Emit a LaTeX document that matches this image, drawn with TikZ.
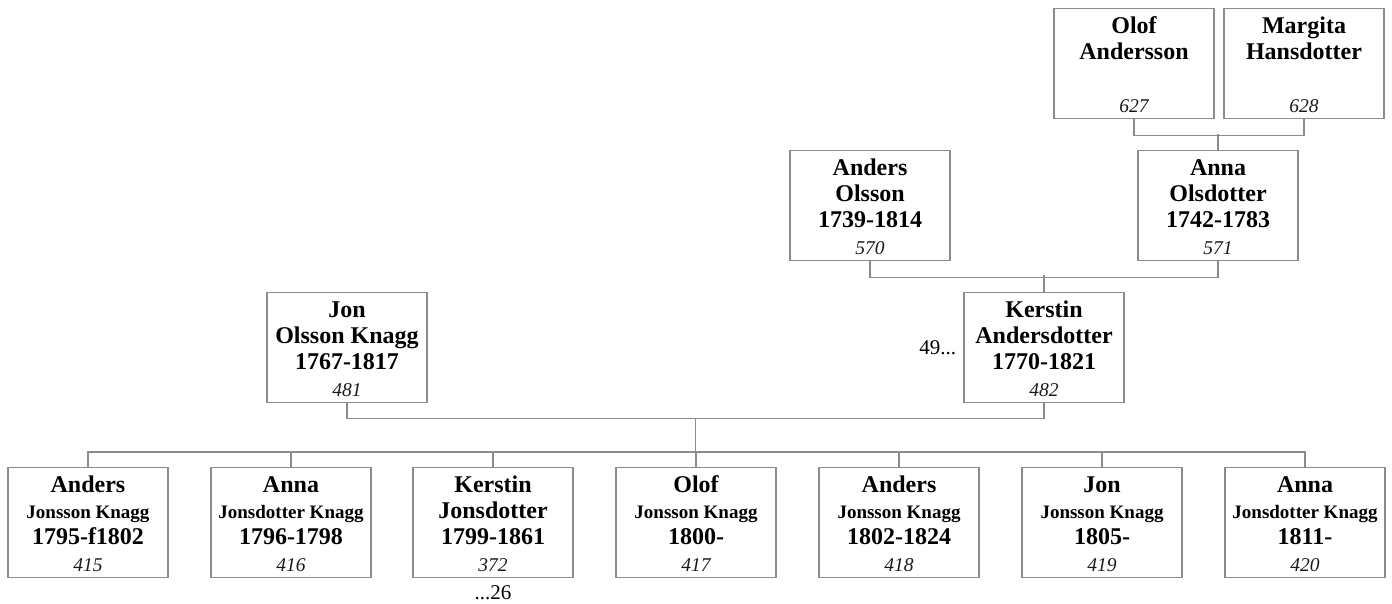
\documentclass[tikz,border=0pt]{standalone}
\usepackage{fontspec}
\setmainfont{Liberation Serif}
\usetikzlibrary{calc}
\definecolor{lineg}{RGB}{140,140,140}
\tikzset{
  personbox/.style={draw=lineg, line width=1.3pt, rectangle, minimum width=160pt, minimum height=110pt, inner sep=0pt},
  bigline/.style={font=\fontsize{24}{26}\selectfont\bfseries, inner sep=0pt, anchor=base},
  smallline/.style={font=\fontsize{19}{21}\selectfont\bfseries, inner sep=0pt, anchor=base},
  numline/.style={font=\fontsize{19.5}{21}\selectfont\itshape, text=black!90, inner sep=0pt, anchor=base},
  reftext/.style={font=\fontsize{21}{23}\selectfont, inner sep=0pt},
  conn/.style={draw=lineg, line width=1.3pt}
}
% \person{id}{cx}{top}{line1}{line2style}{line2}{line3}{number}
\newcommand{\person}[8]{%
  \node[personbox, anchor=north] (#1) at (#2,#3) {};
  \node[bigline] (#1-a) at ($(#1.north)+(0,25)$) {#4};
  \node[#5] (#1-b) at ($(#1.north)+(0,51)$) {#6};
  \node[bigline] (#1-c) at ($(#1.north)+(0,77)$) {#7};
  \node[numline] (#1-d) at ($(#1.north)+(0,104)$) {#8};
}
\begin{document}
\begin{tikzpicture}[x=1pt,y=-1pt]
\useasboundingbox (0,0) rectangle (1392,603);
% generation 4
\person{olofA}{1134}{8}{Olof}{bigline}{Andersson}{}{627}
\person{margita}{1304}{8}{Margita}{bigline}{Hansdotter}{}{628}
% generation 3
\person{andersO}{870}{150}{Anders}{bigline}{Olsson}{1739-1814}{570}
\person{annaO}{1218}{150}{Anna}{bigline}{Olsdotter}{1742-1783}{571}
% generation 2
\person{jon}{347}{292}{Jon}{bigline}{Olsson Knagg}{1767-1817}{481}
\person{kerstinA}{1044}{292}{Kerstin}{bigline}{Andersdotter}{1770-1821}{482}
% children
\person{c1}{88}{467}{Anders}{smallline}{Jonsson Knagg}{1795-f1802}{415}
\person{c2}{291}{467}{Anna}{smallline}{Jonsdotter Knagg}{1796-1798}{416}
\person{c3}{493}{467}{Kerstin}{bigline}{Jonsdotter}{1799-1861}{372}
\person{c4}{696}{467}{Olof}{smallline}{Jonsson Knagg}{1800-}{417}
\person{c5}{899}{467}{Anders}{smallline}{Jonsson Knagg}{1802-1824}{418}
\person{c6}{1102}{467}{Jon}{smallline}{Jonsson Knagg}{1805-}{419}
\person{c7}{1305}{467}{Anna}{smallline}{Jonsdotter Knagg}{1811-}{420}
% references
\node[reftext, anchor=base east] (ref49) at ($(kerstinA.west)+(-7,7)$) {49...};
\node[reftext, anchor=base] (ref26) at ($(c3.south)+(0,21)$) {...26};
% connectors
\draw[conn] (olofA.south) -- ++(0,16) -| (margita.south);
\draw[conn] (annaO.north) -- ++(0,-16);
\draw[conn] (andersO.south) -- ++(0,16) -| (annaO.south);
\draw[conn] (kerstinA.north) -- ++(0,-17);
\draw[conn] (jon.south) -- ++(0,15) coordinate (jl) -| (kerstinA.south);
\coordinate (pm) at ($(jl)!0.5!(jl -| kerstinA.south)$);
\draw[conn] (pm) -- ++(0,36);
\draw[conn] (c1.north) -- ++(0,-15) -| (c7.north);
\foreach \c in {c2,c3,c4,c5,c6}{\draw[conn] (\c.north) -- ++(0,-15);}
\end{tikzpicture}
\end{document}
